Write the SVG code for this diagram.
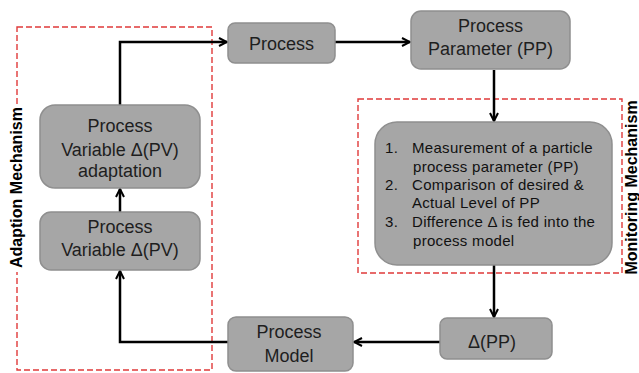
<svg xmlns="http://www.w3.org/2000/svg" width="639" height="373" viewBox="0 0 639 373">
  <defs>
    <marker id="arrow" viewBox="0 0 10 10" refX="9" refY="5" markerWidth="10" markerHeight="10" markerUnits="userSpaceOnUse" orient="auto">
      <path d="M1,1 L9,5 L1,9" fill="none" stroke="#000" stroke-width="2"/>
    </marker>
  </defs>
  <style>
    .box { fill: #a6a6a6; stroke: #8f8f8f; stroke-width: 1.5; }
    .lbl { font-family: "Liberation Sans", Arial, sans-serif; font-size: 18px; fill: #1e1e1e; text-anchor: middle; }
    .list { font-family: "Liberation Sans", Arial, sans-serif; font-size: 15px; fill: #111; letter-spacing: 0.3px; }
    .frame { fill: none; stroke: #e03a3a; stroke-width: 1.4; stroke-dasharray: 6 3; }
    .side { font-family: "Liberation Sans", Arial, sans-serif; font-size: 16px; font-weight: bold; fill: #000; text-anchor: middle; }
    .wire { fill: none; stroke: #000; stroke-width: 2.5; }
  </style>
  <rect width="639" height="373" fill="#fff"/>

  <!-- mechanism frames -->
  <g id="adaption-frame">
    <rect class="frame" x="17" y="27" width="195" height="343"/>
    <rect x="8" y="104" width="18" height="168" fill="#fff"/>
    <text class="side" transform="translate(22,187.5) rotate(-90)">Adaption Mechanism</text>
  </g>
  <g id="monitoring-frame">
    <rect class="frame" x="358" y="99" width="264" height="174"/>
    <rect x="624" y="92" width="15" height="190" fill="#fff"/>
    <text class="side" transform="translate(637,187.5) rotate(-90)">Monitoring Mechanism</text>
  </g>

  <!-- connectors -->
  <g id="connectors">
    <polyline class="wire" points="120,105 120,42 227,42" marker-end="url(#arrow)"/>
    <line class="wire" x1="335" y1="42" x2="410" y2="42" marker-end="url(#arrow)"/>
    <line class="wire" x1="494" y1="70" x2="494" y2="121" marker-end="url(#arrow)"/>
    <line class="wire" x1="494" y1="265" x2="494" y2="317" marker-end="url(#arrow)"/>
    <line class="wire" x1="440" y1="342" x2="354" y2="342" marker-end="url(#arrow)"/>
    <polyline class="wire" points="228,342 120,342 120,271" marker-end="url(#arrow)"/>
    <line class="wire" x1="120" y1="212" x2="120" y2="189" marker-end="url(#arrow)"/>
  </g>

  <!-- nodes -->
  <g id="process">
    <rect class="box" x="228" y="23" width="107" height="40" rx="7"/>
    <text class="lbl" x="281.5" y="50">Process</text>
  </g>
  <g id="process-parameter">
    <rect class="box" x="411" y="11" width="159" height="58" rx="10"/>
    <text class="lbl" x="490.5" y="32">Process</text>
    <text class="lbl" x="490.5" y="55">Parameter (PP)</text>
  </g>
  <g id="monitoring-steps">
    <rect class="box" x="375" y="122" width="237" height="143" rx="22"/>
    <text class="list" x="385" y="153">1.</text>
    <text class="list" x="412" y="153">Measurement of a particle</text>
    <text class="list" x="413" y="172">process parameter (PP)</text>
    <text class="list" x="385" y="190">2.</text>
    <text class="list" x="412" y="190">Comparison of desired &amp;</text>
    <text class="list" x="412" y="208">Actual Level of PP</text>
    <text class="list" x="385" y="227">3.</text>
    <text class="list" x="412" y="227">Difference Δ  is fed into the</text>
    <text class="list" x="413" y="246">process model</text>
  </g>
  <g id="delta-pp">
    <rect class="box" x="440" y="318" width="112" height="41" rx="7"/>
    <text class="lbl" x="492" y="348">Δ(PP)</text>
  </g>
  <g id="process-model">
    <rect class="box" x="228" y="317" width="125" height="54" rx="8"/>
    <text class="lbl" x="289" y="338">Process</text>
    <text class="lbl" x="289" y="362">Model</text>
  </g>
  <g id="pv-adaptation">
    <rect class="box" x="40" y="105" width="160" height="83" rx="15"/>
    <text class="lbl" x="120" y="132">Process</text>
    <text class="lbl" x="120" y="156">Variable Δ(PV)</text>
    <text class="lbl" x="120" y="177">adaptation</text>
  </g>
  <g id="pv">
    <rect class="box" x="40" y="212" width="160" height="58" rx="11"/>
    <text class="lbl" x="120" y="233">Process</text>
    <text class="lbl" x="120" y="256">Variable Δ(PV)</text>
  </g>
</svg>
